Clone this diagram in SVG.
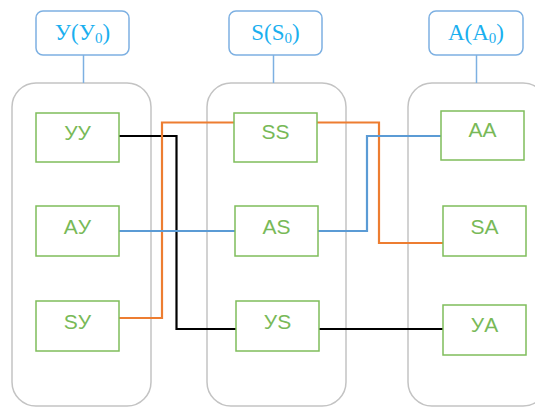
<svg xmlns="http://www.w3.org/2000/svg" width="535" height="407" viewBox="0 0 535 407">
<style>
.hdr{fill:#fff;stroke:#7DB0E2;stroke-width:1.5}
.htxt{font-family:"Liberation Serif",serif;font-size:23px;fill:#1AAFEF;text-anchor:middle}
.hl{stroke:#7DB0E2;stroke-width:1.5}
.cont{fill:none;stroke:#C3C3C3;stroke-width:1.5}
.node{fill:#fff;stroke:#7FBD5B;stroke-width:1.5}
.ntxt{font-family:"Liberation Sans",sans-serif;font-size:21px;fill:#78B957;text-anchor:middle}
.c{fill:none;stroke-width:2.2}
</style>
<g id="containers">
<rect class="cont" x="12" y="83" width="139" height="323" rx="24"/>
<rect class="cont" x="207" y="83" width="139" height="323" rx="24"/>
<rect class="cont" x="408" y="83" width="139" height="323" rx="24"/>
</g>
<g id="header-lines">
<line class="hl" x1="83.5" y1="55" x2="83.5" y2="83"/>
<line class="hl" x1="273.5" y1="55" x2="273.5" y2="83"/>
<line class="hl" x1="476.5" y1="55" x2="476.5" y2="83"/>
</g>
<g id="hdr-Y"><rect class="hdr" x="36" y="11" width="93" height="44" rx="7"/><text class="htxt" x="82.5" y="40">У(У<tspan font-size="15" dy="3">0</tspan><tspan dy="-3">)</tspan></text></g>
<g id="hdr-S"><rect class="hdr" x="229" y="11" width="93" height="44" rx="7"/><text class="htxt" x="275.5" y="40">S(S<tspan font-size="15" dy="3">0</tspan><tspan dy="-3">)</tspan></text></g>
<g id="hdr-A"><rect class="hdr" x="429" y="11" width="94" height="44" rx="7"/><text class="htxt" x="476" y="40">A(A<tspan font-size="15" dy="3">0</tspan><tspan dy="-3">)</tspan></text></g>
<g id="connectors">
<path class="c" stroke="#000" d="M119,136 H176.5 V329 H236"/>
<path class="c" stroke="#000" d="M319,329 H443"/>
<path class="c" stroke="#ED7D31" d="M119,318 H162 V122.5 H234"/>
<path class="c" stroke="#ED7D31" d="M317,122.5 H379 V243 H443"/>
<path class="c" stroke="#5B9BD5" d="M119,231 H235"/>
<path class="c" stroke="#5B9BD5" d="M318,231 H367 V136 H441"/>
</g>
<g id="YY"><rect class="node" x="36" y="113" width="83" height="49"/><text class="ntxt" x="77.5" y="140">УУ</text></g>
<g id="AY"><rect class="node" x="36" y="206" width="83" height="50"/><text class="ntxt" x="77.5" y="234">AУ</text></g>
<g id="SY"><rect class="node" x="36" y="301" width="83" height="50"/><text class="ntxt" x="77.5" y="329">SУ</text></g>
<g id="SS"><rect class="node" x="234" y="113" width="83" height="49"/><text class="ntxt" x="275.5" y="139">SS</text></g>
<g id="AS"><rect class="node" x="235" y="206" width="83" height="50"/><text class="ntxt" x="276.5" y="234">AS</text></g>
<g id="YS"><rect class="node" x="236" y="301" width="83" height="50"/><text class="ntxt" x="277.5" y="329">УS</text></g>
<g id="AA"><rect class="node" x="441" y="111" width="83" height="49"/><text class="ntxt" x="482.5" y="137">AA</text></g>
<g id="SA"><rect class="node" x="443" y="206" width="83" height="50"/><text class="ntxt" x="484.5" y="234">SA</text></g>
<g id="YA"><rect class="node" x="443" y="305" width="83" height="50"/><text class="ntxt" x="484.5" y="332">УA</text></g>
</svg>
